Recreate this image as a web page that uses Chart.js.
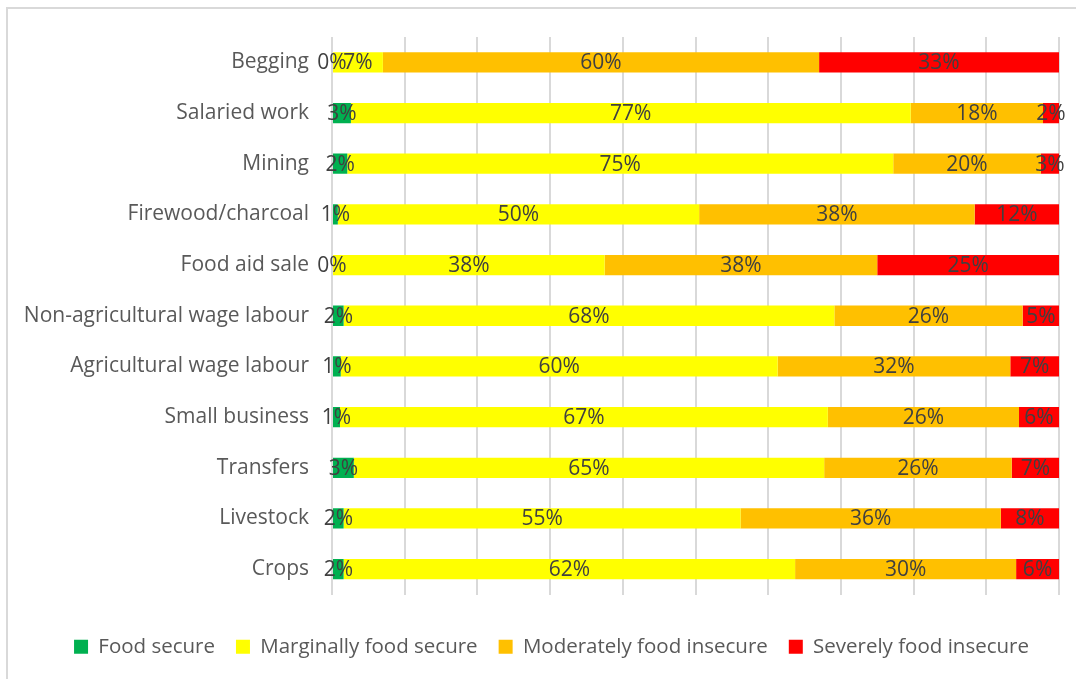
<!DOCTYPE html>
<html>
<head>
<meta charset="utf-8">
<script src="https://cdn.jsdelivr.net/npm/chart.js@4"></script>
<style>
  html, body { margin: 0; padding: 0; background: #fff; }
  #frame { position: absolute; left: 6px; top: 7px; width: 1080px; height: 690px;
           border-left: 2px solid #d9d9d9; border-top: 2px solid #d9d9d9; }
  #wrap { position: absolute; left: 0; top: 0; width: 1076px; height: 679px; }
</style>
</head>
<body>
<div id="frame"></div>
<div id="wrap"><canvas id="foodChart" width="1076" height="679"></canvas></div>
<script>
// income sources, top to bottom as in the figure
const sources = ['Begging', 'Salaried work', 'Mining', 'Firewood/charcoal', 'Food aid sale',
    'Non-agricultural wage labour', 'Agricultural wage labour', 'Small business',
    'Transfers', 'Livestock', 'Crops'];

// share of households (%) in each food security group
const foodSecure = [0, 2.6, 2.1, 0.8, 0, 1.6, 1.2, 1.1, 3.0, 1.6, 1.6];
const marginallySecure = [7, 77, 75.1, 49.7, 37.5, 67.5, 60.1, 67.1, 64.7, 54.6, 62.1];
const moderatelyInsecure = [60, 18.2, 20.3, 37.9, 37.5, 25.9, 32.0, 26.3, 25.8, 35.8, 30.4];
const severelyInsecure = [33, 2.2, 2.5, 11.6, 25, 5.0, 6.7, 5.5, 6.5, 8.0, 5.9];

const xTicks = [0, 10, 20, 30, 40, 50, 60, 70, 80, 90, 100];

const FONT = '"Open Sans", Lato, sans-serif';
Chart.defaults.font.family = FONT;
Chart.defaults.font.size = 21;
Chart.defaults.color = '#595959';

// percentage labels centred in each segment, like the Excel data labels
const segmentLabels = {
    id: 'segmentLabels',
    afterDatasetsDraw(chart) {
        const ctx = chart.ctx;
        ctx.save();
        ctx.font = '21px ' + FONT;
        ctx.fillStyle = '#404040';
        ctx.textAlign = 'center';
        ctx.textBaseline = 'middle';
        chart.data.datasets.forEach(function (ds, i) {
            const meta = chart.getDatasetMeta(i);
            meta.data.forEach(function (bar, j) {
                const cx = (bar.x + bar.base) / 2;
                ctx.fillText(Math.round(ds.data[j]) + '%', cx, bar.y + 1);
            });
        });
        ctx.restore();
    }
};

// Excel centres the legend a bit further right than chart.js does
const legendShift = {
    id: 'legendShift',
    afterLayout(chart) {
        chart.legend.left += 22;
        chart.legend.right += 22;
    }
};

const ctx = document.getElementById('foodChart').getContext('2d');
const chart = new Chart(ctx, {
    type: 'bar',
    data: {
        labels: sources,
        datasets: [{
            label: 'Food secure',
            backgroundColor: '#00B050',
            data: foodSecure
        }, {
            label: 'Marginally food secure',
            backgroundColor: '#FFFF00',
            data: marginallySecure
        }, {
            label: 'Moderately food insecure',
            backgroundColor: '#FFC000',
            data: moderatelyInsecure
        }, {
            label: 'Severely food insecure',
            backgroundColor: '#FF0000',
            data: severelyInsecure
        }]
    },
    options: {
        indexAxis: 'y',
        responsive: false,
        animation: false,
        barPercentage: 0.4,
        categoryPercentage: 1,
        layout: {
            padding: { top: 37, right: 17, bottom: 12, left: 0 }
        },
        scales: {
            x: {
                stacked: true,
                min: 0,
                max: 100,
                afterBuildTicks: function (scale) {
                    scale.ticks = xTicks.map(v => ({ value: v }));
                },
                afterFit: function (scale) { scale.height = 21; },
                ticks: { display: false },
                grid: { color: '#d9d9d9', lineWidth: 2, drawTicks: false },
                border: { display: false }
            },
            y: {
                stacked: true,
                afterFit: function (scale) { scale.width = 332; },
                ticks: { padding: 23, color: '#595959' },
                grid: { display: false, drawTicks: false },
                border: { display: false }
            }
        },
        plugins: {
            legend: {
                position: 'bottom',
                labels: {
                    boxWidth: 14,
                    boxHeight: 14,
                    padding: 21,
                    color: '#595959',
                    font: { size: 20.5 }
                }
            },
            tooltip: { enabled: false }
        }
    },
    plugins: [segmentLabels, legendShift]
});
</script>
</body>
</html>
